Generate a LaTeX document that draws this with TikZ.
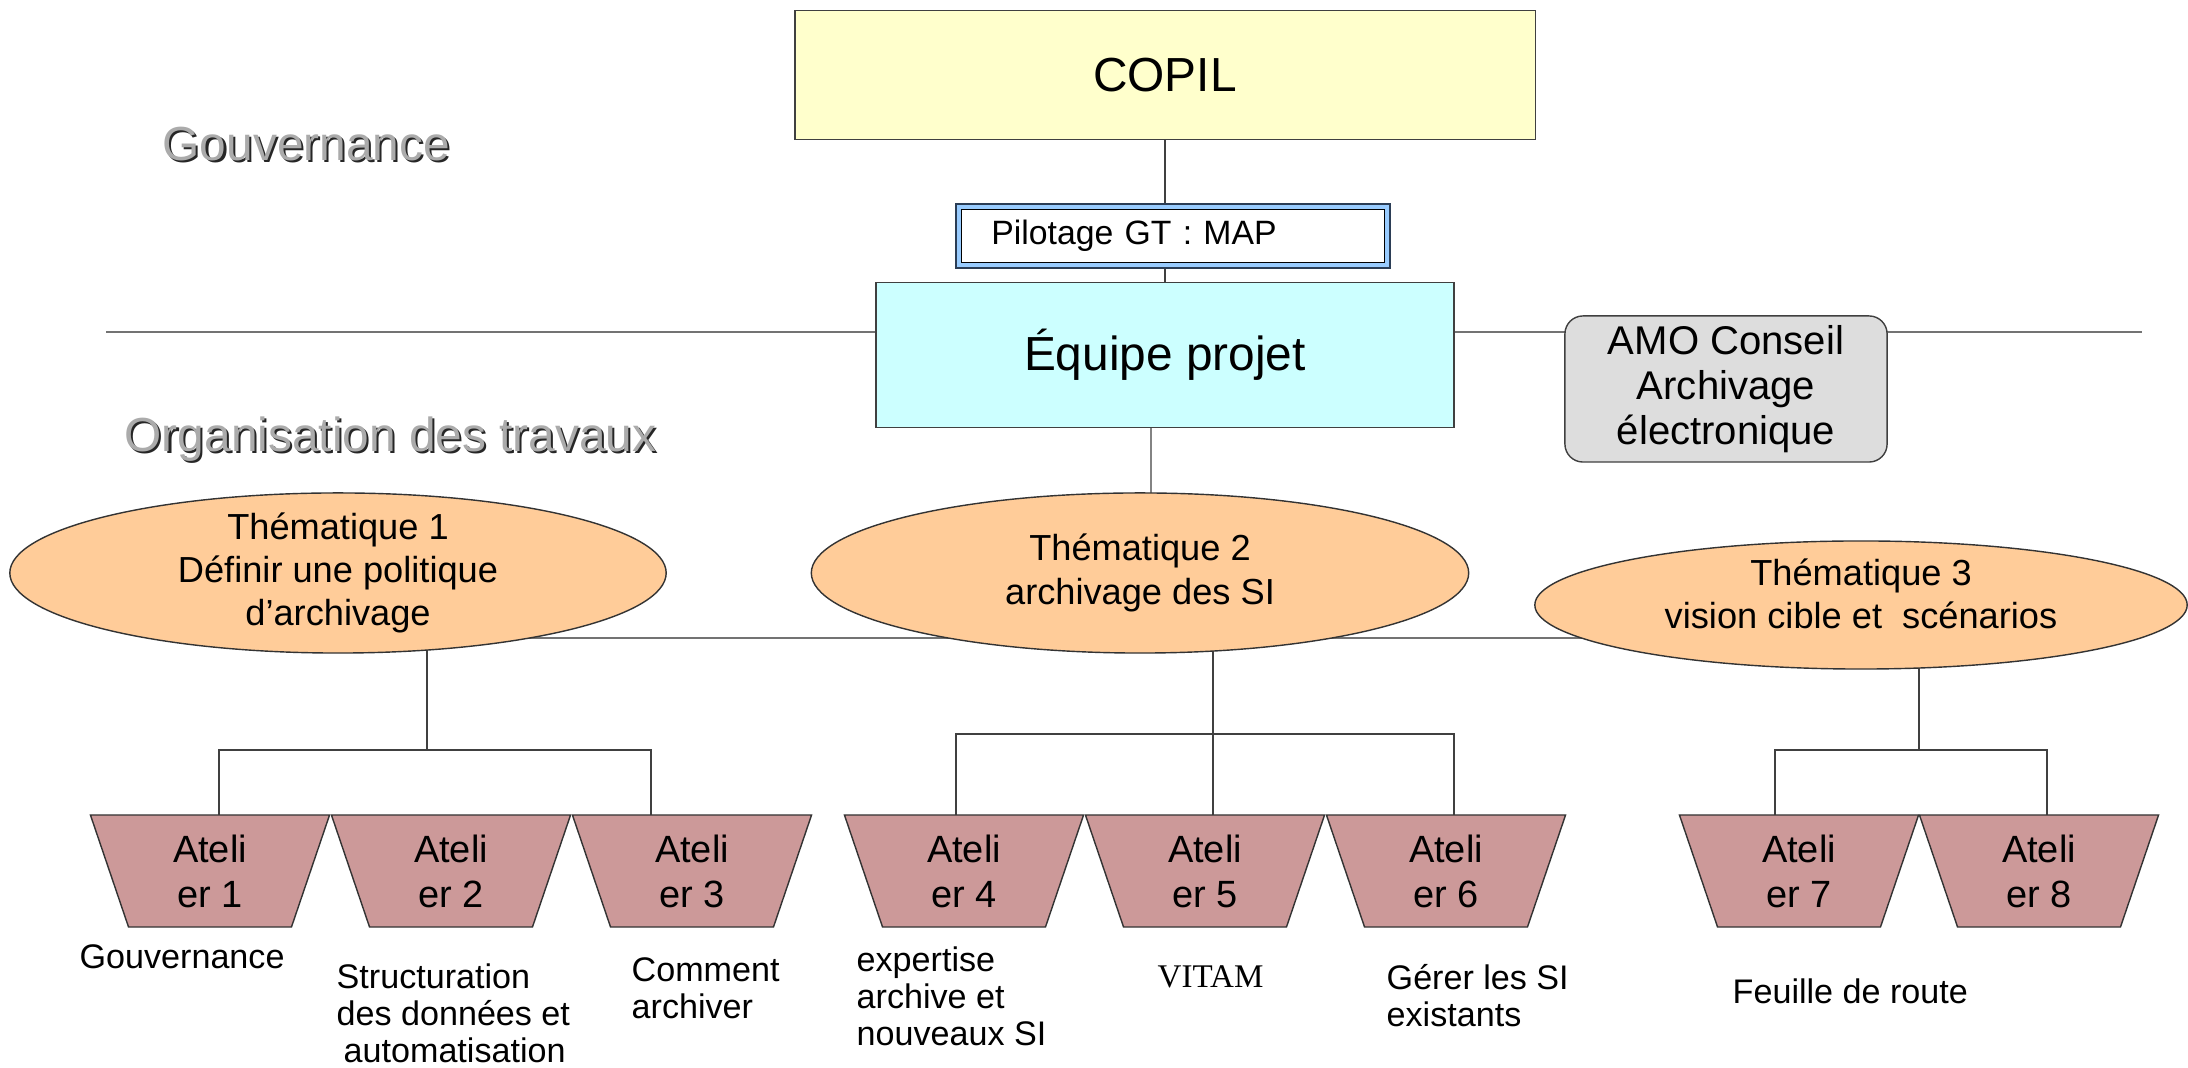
\documentclass[tikz,border=0pt]{standalone}
\usepackage{fontspec}
\setmainfont{Liberation Sans}
\newfontfamily\timesfont{Liberation Serif}
\usetikzlibrary{shapes}
\usetikzlibrary{backgrounds}

\definecolor{copilfill}{HTML}{FFFFCC}
\definecolor{equipefill}{HTML}{CCFFFF}
\definecolor{amofill}{HTML}{DDDDDD}
\definecolor{themefill}{HTML}{FFCC99}
\definecolor{atelierfill}{HTML}{CC9999}
\definecolor{pilotband}{HTML}{99CCFF}
\definecolor{pilotedge}{HTML}{2B3D55}

\newcommand{\ombre}[1]{\makebox[0pt][l]{\hspace{0.6pt}\raisebox{-0.6pt}{\color{black!85}#1}}{\color{black!33}#1}}

\begin{document}
\begin{tikzpicture}[x=0.01cm,y=-0.01cm]
	\tikzstyle{every node}=[inner sep=0pt]
	\tikzstyle{boite}=[rectangle,draw=black!75,font=\fontsize{13.6}{16}\selectfont]
	\tikzstyle{pilotbox}=[rectangle,draw=black,fill=white,inner xsep=0.30cm,text width=3.63cm,align=left,minimum height=0.53cm,font=\fontsize{9.6}{11.5}\selectfont,preaction={draw=pilotedge,line width=0.125cm},preaction={draw=pilotband,line width=0.095cm}]
	\tikzstyle{theme}=[ellipse,draw=black!80,fill=themefill,inner ysep=-0.1cm,align=center,font=\fontsize{10.3}{12.3}\selectfont]
	\tikzstyle{atelier}=[trapezium,trapezium angle=62.4,trapezium stretches body,shape border rotate=180,draw=black!80,fill=atelierfill,minimum width=2.39cm,minimum height=1.12cm,align=center,font=\fontsize{10.8}{12.8}\selectfont]
	\tikzstyle{legende}=[anchor=west,align=left,font=\fontsize{9.7}{10.5}\selectfont]
	\tikzstyle{titre}=[anchor=west,font=\fontsize{13.6}{16}\selectfont]
	\tikzstyle{lien}=[draw=black!75]

	\useasboundingbox (0,0) rectangle (2188,1068);

	\node[titre] (gouv) at (162,145) {\ombre{Gouvernance}};
	\node[titre] (orga) at (124,440) {\ombre{Organisation des travaux}};

	\node[boite,fill=copilfill,minimum width=7.40cm,minimum height=1.29cm] (copil) at (1165,75) {COPIL};
	\node[pilotbox] (pilot) at (1173,236) {Pilotage GT : MAP};
	\node[boite,fill=equipefill,minimum width=5.78cm,minimum height=1.45cm] (equipe) at (1165,355) {Équipe projet};
	\node[boite,fill=amofill,rounded corners=0.18cm,minimum width=3.22cm,minimum height=1.46cm,align=center,font=\fontsize{11.4}{12.8}\selectfont] (amo) at (1726,389) {AMO Conseil\\Archivage\\électronique};

	\node[theme,minimum width=6.56cm,minimum height=1.60cm] (them1) at (338,573) {Thématique 1\\Définir une politique\\d’archivage};
	\node[theme,minimum width=6.57cm,minimum height=1.60cm] (them2) at (1140,573) {Thématique 2\\archivage des SI};
	\node[theme,minimum width=6.52cm,minimum height=1.28cm] (them3) at (1861,605) {Thématique 3\\vision cible et~ scénarios\rule[-0.23cm]{0pt}{0.23cm}};

	\node[atelier] (at1) at (210,871) {Ateli\\er 1};
	\node[atelier] (at2) at (451,871) {Ateli\\er 2};
	\node[atelier] (at3) at (692,871) {Ateli\\er 3};
	\node[atelier] (at4) at (964,871) {Ateli\\er 4};
	\node[atelier] (at5) at (1205,871) {Ateli\\er 5};
	\node[atelier] (at6) at (1446,871) {Ateli\\er 6};
	\node[atelier] (at7) at (1799,871) {Ateli\\er 7};
	\node[atelier] (at8) at (2039,871) {Ateli\\er 8};

	\node[legende] (leg1) at (79,957) {Gouvernance};
	\node[legende] (leg2) at (336,1013) {Structuration\\des données et\\\hspace{0.07cm}automatisation};
	\node[legende] (leg3) at (631,988) {Comment\\archiver};
	\node[legende] (leg4) at (856,996) {expertise\\archive et\\nouveaux SI};
	\node[legende,font=\timesfont\fontsize{9.4}{10.5}\selectfont] (leg5) at (1157,977) {VITAM};
	\node[legende] (leg6) at (1386,996) {Gérer les SI\\existants};
	\node[legende] (leg7) at (1732,991) {Feuille de route};

	\coordinate (sepG) at (106,332);
	\coordinate (sepD) at (2142,332);
	\coordinate (bus1) at (338,638);
	\coordinate (bus3) at (1861,638);
	\coordinate (fork1) at (427,750);
	\coordinate (fork2) at (1213,734);
	\coordinate (fork3) at (1919,750);

	\begin{pgfonlayer}{background}
		\draw[black!55] (sepG) -- (sepD);
		\draw[black!55] (bus1) -- (bus3);
		\draw[lien] (copil) -- (equipe);
		\draw[lien] ([xshift=-0.14cm]equipe.center) -- ([xshift=0.11cm]them2.center);
		\draw[lien] (fork1 |- them1.center) -- (fork1);
		\draw[lien] (fork1) -| ([xshift=0.09cm]at1.center);
		\draw[lien] (fork1) -| ([xshift=-0.41cm]at3.center);
		\draw[lien] (fork2 |- them2.center) -- (fork2 |- at5.center);
		\draw[lien] (fork2) -| ([xshift=-0.08cm]at4.center);
		\draw[lien] (fork2) -| ([xshift=0.08cm]at6.center);
		\draw[lien] (fork3 |- them3.center) -- (fork3);
		\draw[lien] (fork3) -| ([xshift=-0.24cm]at7.center);
		\draw[lien] (fork3) -| ([xshift=0.08cm]at8.center);
	\end{pgfonlayer}
\end{tikzpicture}
\end{document}
